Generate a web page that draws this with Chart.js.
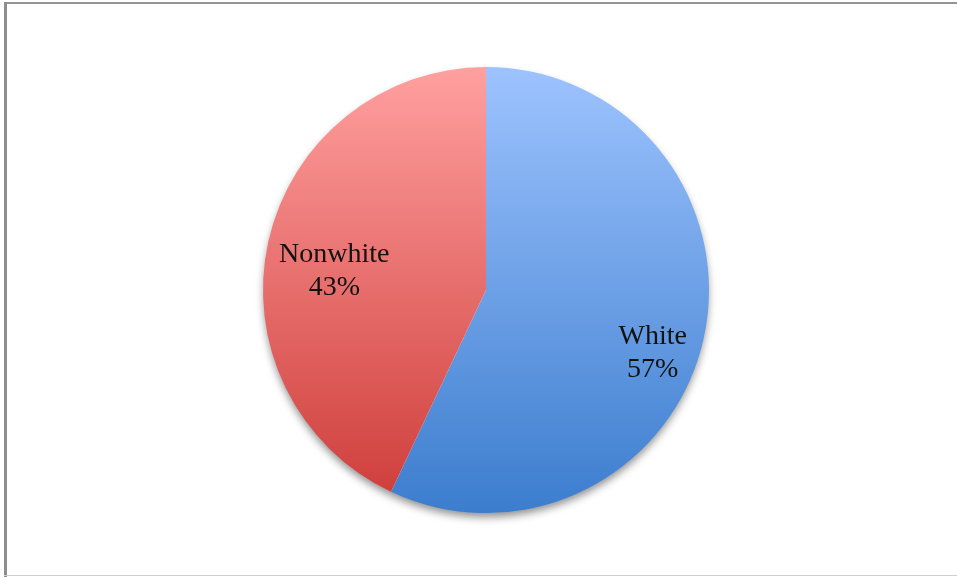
<!DOCTYPE html>
<html>
<head>
<meta charset="utf-8">
<script src="https://cdn.jsdelivr.net/npm/chart.js@4/dist/chart.umd.min.js"></script>
<style>
  body { margin: 0; background: #fff; }
  #wrap { position: relative; width: 957px; height: 577px; overflow: hidden; }
  #frameTop { position: absolute; left: 4px; top: 2px; width: 953px; height: 2px; background: #949494; }
  #frameLeft { position: absolute; left: 4px; top: 2px; width: 3px; height: 575px; background: #8e8e8e; }
  #frameBottom { position: absolute; left: 4px; top: 575px; width: 953px; height: 1px; background: #cfcfcf; }
  canvas { position: absolute; left: 0; top: 0; }
</style>
</head>
<body>
<div id="wrap">
  <canvas id="pieChart"></canvas>
  <div id="frameTop"></div>
  <div id="frameLeft"></div>
  <div id="frameBottom"></div>
</div>
<script>
const categories = ['White', 'Nonwhite'];
const shares = [57, 43];
// top / bottom colours of each slice's vertical gradient
const topColors = ['#9dc3fe', '#ffa09f'];
const bottomColors = ['#3c7dce', '#cd3b38'];
// small nudges for the in-slice labels
const labelNudge = [{ dx: 10, dy: 28 }, { dx: 5, dy: 16 }];

document.addEventListener('DOMContentLoaded', () => {
    const ctx = document.getElementById('pieChart').getContext('2d');

    function sliceGradient(context, i) {
        const area = context.chart.chartArea;
        if (!area) return topColors[i];
        const g = context.chart.ctx.createLinearGradient(0, area.top, 0, area.bottom);
        g.addColorStop(0, topColors[i]);
        g.addColorStop(1, bottomColors[i]);
        return g;
    }

    // soft shadow under the whole pie
    const pieShadow = {
        id: 'pieShadow',
        beforeDatasetsDraw(chart) {
            const arc = chart.getDatasetMeta(0).data[0];
            if (!arc) return;
            const c = chart.ctx;
            c.save();
            c.shadowColor = 'rgba(0,0,0,0.45)';
            c.shadowBlur = 9;
            c.shadowOffsetX = 0;
            c.shadowOffsetY = 5;
            c.fillStyle = '#ffffff';
            c.beginPath();
            c.arc(arc.x, arc.y, arc.outerRadius - 1, 0, Math.PI * 2);
            c.fill();
            c.restore();
        }
    };

    const sliceLabels = {
        id: 'sliceLabels',
        afterDatasetsDraw(chart) {
            const c = chart.ctx;
            const meta = chart.getDatasetMeta(0);
            c.save();
            c.font = '28px "Liberation Serif", serif';
            c.fillStyle = '#111111';
            c.textAlign = 'center';
            c.textBaseline = 'middle';
            meta.data.forEach((arc, i) => {
                const mid = (arc.startAngle + arc.endAngle) / 2;
                const r = arc.outerRadius * 0.72;
                const x = arc.x + Math.cos(mid) * r + labelNudge[i].dx;
                const y = arc.y + Math.sin(mid) * r + labelNudge[i].dy;
                c.fillText(categories[i], x, y - 16);
                c.fillText(shares[i] + '%', x, y + 17);
            });
            c.restore();
        }
    };

    new Chart(ctx, {
        type: 'pie',
        data: {
            labels: categories,
            datasets: [{
                data: shares,
                backgroundColor: (context) => sliceGradient(context, context.dataIndex),
                borderWidth: 0
            }]
        },
        options: {
            responsive: true,
            maintainAspectRatio: false,
            animation: false,
            layout: { padding: { left: 263, right: 248, top: 67, bottom: 64 } },
            plugins: {
                legend: { display: false },
                tooltip: { enabled: false }
            }
        },
        plugins: [pieShadow, sliceLabels]
    });
});
</script>
</body>
</html>
